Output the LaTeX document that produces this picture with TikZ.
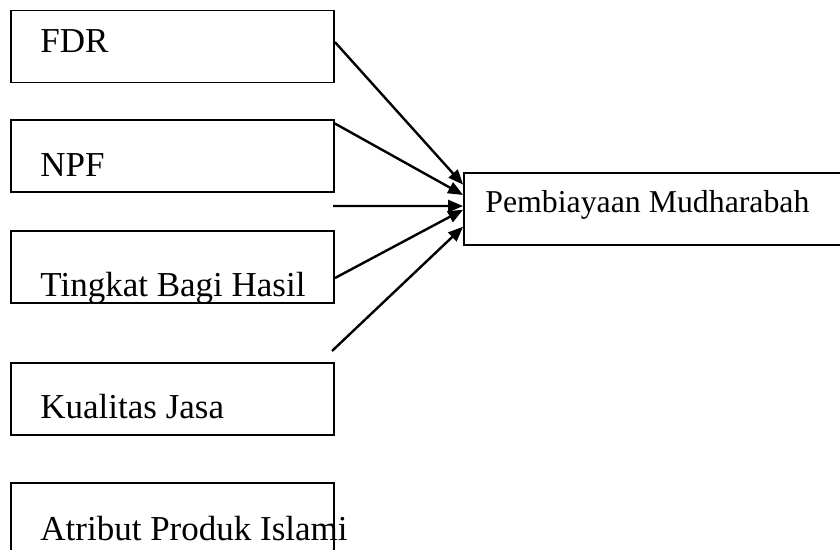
\documentclass[tikz,border=0pt]{standalone}
\usepackage{fontspec}
\setmainfont{Liberation Serif}
\usetikzlibrary{arrows.meta,calc}

\begin{document}
\begin{tikzpicture}[x=0.5pt, y=-0.5pt, >={Triangle[length=7.5pt,width=6pt]},
    box/.style={draw, line width=0.9pt, minimum width=161.5pt, minimum height=36pt, inner sep=0pt},
    lbl/.style={anchor=base west, inner sep=0pt, font=\fontsize{17.5}{20}\selectfont},
    link/.style={->, line width=1.2pt}]
  \useasboundingbox (0,0) rectangle (840,550);
  \clip (0,0) rectangle (840,550);
  % variabel X
  \node[box] (FDR) at (172.5,46.5) {};
  \node[box] (NPF) at (172.5,156) {};
  \node[box] (TBH) at (172.5,267) {};
  \node[box] (KJ) at (172.5,399) {};
  \node[box] (API) at (172.5,519) {};
  \node[lbl] (FDRtxt) at (40,53) {FDR};
  \node[lbl] (NPFtxt) at (40,177) {NPF};
  \node[lbl] (TBHtxt) at (40,297) {Tingkat Bagi Hasil};
  \node[lbl] (KJtxt) at (40,418) {Kualitas Jasa};
  \node[lbl] (APItxt) at (40,540) {Atribut Produk Islami};
  % variabel Y
  \node[box, minimum width=208pt] (PM) at (672,209) {};
  \node[lbl, font=\fontsize{15.9}{18}\selectfont] (PMtxt) at (485,213) {Pembiayaan Mudharabah};
  \coordinate (s3) at (333,206);
  \coordinate (s5) at (332,351);
  \draw[link] ($(FDR.north east)!0.44!(FDR.south east)$) -- ($(PM.north west)!0.17!(PM.south west)$);
  \draw[link] ($(NPF.north east)!0.06!(NPF.south east)$) -- ($(PM.north west)!0.31!(PM.south west)$);
  \draw[link] (s3) -- ($(PM.north west)!0.46!(PM.south west)$);
  \draw[link] ($(TBH.north east)!0.65!(TBH.south east)$) -- ($(PM.north west)!0.51!(PM.south west)$);
  \draw[link] (s5) -- ($(PM.north west)!0.74!(PM.south west)$);
\end{tikzpicture}
\end{document}
